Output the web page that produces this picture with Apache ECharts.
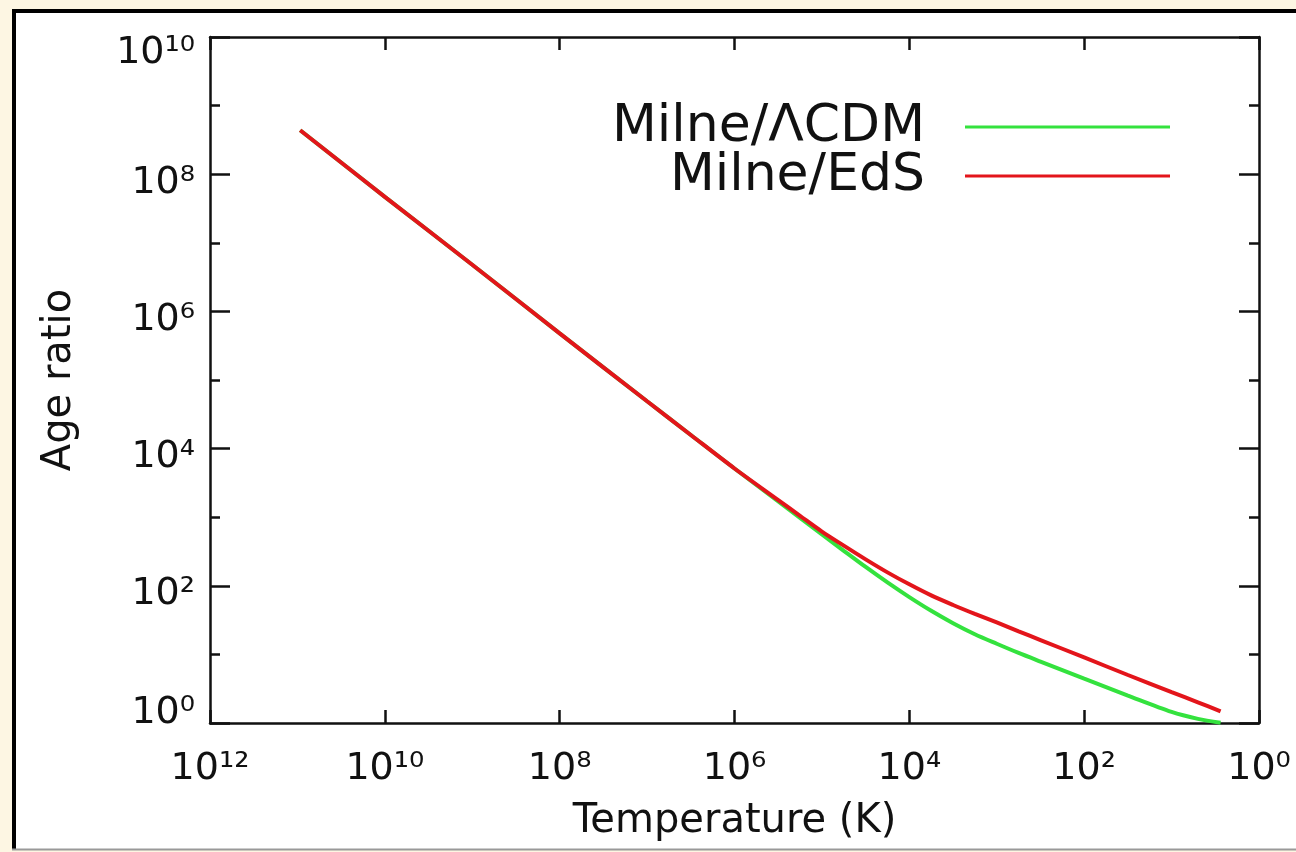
<!DOCTYPE html>
<html>
<head>
<meta charset="utf-8">
<title>Age ratio vs temperature</title>
<script src="https://cdn.jsdelivr.net/npm/echarts@6.0.0/dist/echarts.min.js"></script>
<style>
  html, body {margin:0; padding:0; background:#fdf6e3;}
  #chart {width:1296px; height:852px;}
</style>
</head>
<body>
<div id="chart"></div>
<script>
// temperature in K (x)
let temperature=[9.3e10, 1e10, 1e9, 1e8, 1e7, 3.16e6, 1e6, 3.16e5, 1.78e5, 1e5, 5.62e4, 3.16e4, 1.78e4, 1e4,
    5620, 3160, 1780, 1000, 562, 316, 100, 31.6, 10, 5, 2.75];
// Milne age / LCDM age
let ratioLCDM=[4.37e8, 4.68e7, 4.79e6, 4.79e5, 4.9e4, 1.58e4, 5129, 1698, 977, 562, 324, 188, 112, 68.4,
    43.2, 28.5, 19.7, 14.3, 10.5, 7.85, 4.42, 2.51, 1.45, 1.15, 1.01];
// Milne age / EdS age
let ratioEdS=[4.37e8, 4.68e7, 4.79e6, 4.79e5, 4.9e4, 1.58e4, 5129, 1778, 1047, 617, 385, 243, 157, 105,
    72.4, 52.5, 38.9, 29.2, 21.7, 16.2, 9.02, 5.01, 2.82, 2.0, 1.48];
let seriesNames=['Milne/\u039BCDM', 'Milne/EdS'];
let seriesColors=['#34e23e', '#e3151b'];
let supDigits=['\u2070','\u00B9','\u00B2','\u00B3','\u2074','\u2075','\u2076','\u2077','\u2078','\u2079'];

let font='DejaVu Sans';
let ink='#111';

function pairs(xs, ys){
    let out=[];
    for(let i=0;i<xs.length;i++){ out.push([xs[i], ys[i]]); }
    return out;
}
function pow10Text(v){
    let e=String(Math.round(Math.log10(v)));
    let s='';
    for(let c of e){ s+=supDigits[+c]; }
    return '10'+s;
}

// label styles; padding nudges the lowest/highest y labels like the original
let rich={
    x:{fontFamily:font, fontSize:38, lineHeight:38, color:ink},
    m:{fontFamily:font, fontSize:38, lineHeight:38, color:ink, padding:[17,0,0,0]},
    lo:{fontFamily:font, fontSize:38, lineHeight:38, color:ink, padding:[0,0,19,0]},
    hi:{fontFamily:font, fontSize:38, lineHeight:38, color:ink, padding:[33,0,0,0]}
};
function xLabel(v){ return '{x|'+pow10Text(v)+'}'; }
function yLabel(v){
    let e=Math.round(Math.log10(v));
    let st=e===0?'lo':(e===10?'hi':'m');
    return '{'+st+'|'+pow10Text(v)+'}';
}

let xBase={type:'log', logBase:10, min:1, max:1e12, inverse:true, interval:2,
    axisLine:{show:true, lineStyle:{color:ink, width:2.5}},
    axisTick:{show:true, inside:true, length:13, lineStyle:{color:ink, width:2.5}},
    splitLine:{show:false}, minorTick:{show:false}};
let yBase={type:'log', logBase:10, min:1, max:1e10, interval:2,
    axisLine:{show:true, lineStyle:{color:ink, width:2.5}},
    axisTick:{show:true, inside:true, length:20, lineStyle:{color:ink, width:2.5}},
    splitLine:{show:false}, minorTick:{show:false}};
let yMinor=Object.assign({}, yBase, {interval:1, axisLine:{show:false},
    axisTick:{show:true, inside:true, length:10, lineStyle:{color:ink, width:2.5}},
    axisLabel:{show:false}});

let option={
    backgroundColor:'#fdf6e3',
    animation:false,
    graphic:[
        {type:'rect', z:-100, shape:{x:12, y:9, width:1290, height:841}, style:{fill:'#fff'}},
        {type:'line', z:-90, shape:{x1:14, y1:9, x2:14, y2:850}, style:{stroke:'#000', lineWidth:4}},
        {type:'line', z:-90, shape:{x1:12, y1:11, x2:1296, y2:11}, style:{stroke:'#000', lineWidth:4}},
        {type:'line', z:-90, shape:{x1:12, y1:849.5, x2:1296, y2:849.5}, style:{stroke:'#999', lineWidth:2}}
    ],
    grid:{left:210, right:37, top:37, bottom:129, containLabel:false, outerBoundsMode:'none'},
    legend:{
        data:seriesNames.slice(),
        orient:'vertical', right:121, top:96, align:'right',
        icon:'rect', itemWidth:205, itemHeight:3, itemGap:-3,
        textStyle:{fontFamily:font, fontSize:52, color:ink, padding:[0,35,0,0]}
    },
    xAxis:[
        Object.assign({}, xBase, {position:'bottom',
            name:'Temperature (K)', nameLocation:'middle', nameGap:79,
            nameTextStyle:{fontFamily:font, fontSize:40, color:ink},
            axisLabel:{show:true, margin:27, formatter:xLabel, rich:rich}}),
        Object.assign({}, xBase, {position:'top', axisLabel:{show:false}})
    ],
    yAxis:[
        Object.assign({}, yBase, {position:'left',
            name:'Age ratio', nameLocation:'middle', nameGap:130,
            nameTextStyle:{fontFamily:font, fontSize:40, color:ink},
            axisLabel:{show:true, margin:15, formatter:yLabel, rich:rich}}),
        Object.assign({}, yMinor, {position:'left'}),
        Object.assign({}, yBase, {position:'right', axisLabel:{show:false}}),
        Object.assign({}, yMinor, {position:'right'})
    ],
    series:[
        {name:seriesNames[0], type:'line', xAxisIndex:0, yAxisIndex:0, data:pairs(temperature, ratioLCDM),
            symbol:'none', smooth:0.3, color:seriesColors[0], lineStyle:{width:4, color:seriesColors[0]}, z:3},
        {name:seriesNames[1], type:'line', xAxisIndex:0, yAxisIndex:0, data:pairs(temperature, ratioEdS),
            symbol:'none', smooth:0.3, color:seriesColors[1], lineStyle:{width:4, color:seriesColors[1]}, z:4}
    ]
};

let chart=echarts.init(document.getElementById('chart'));
chart.setOption(option);
</script>
</body>
</html>
